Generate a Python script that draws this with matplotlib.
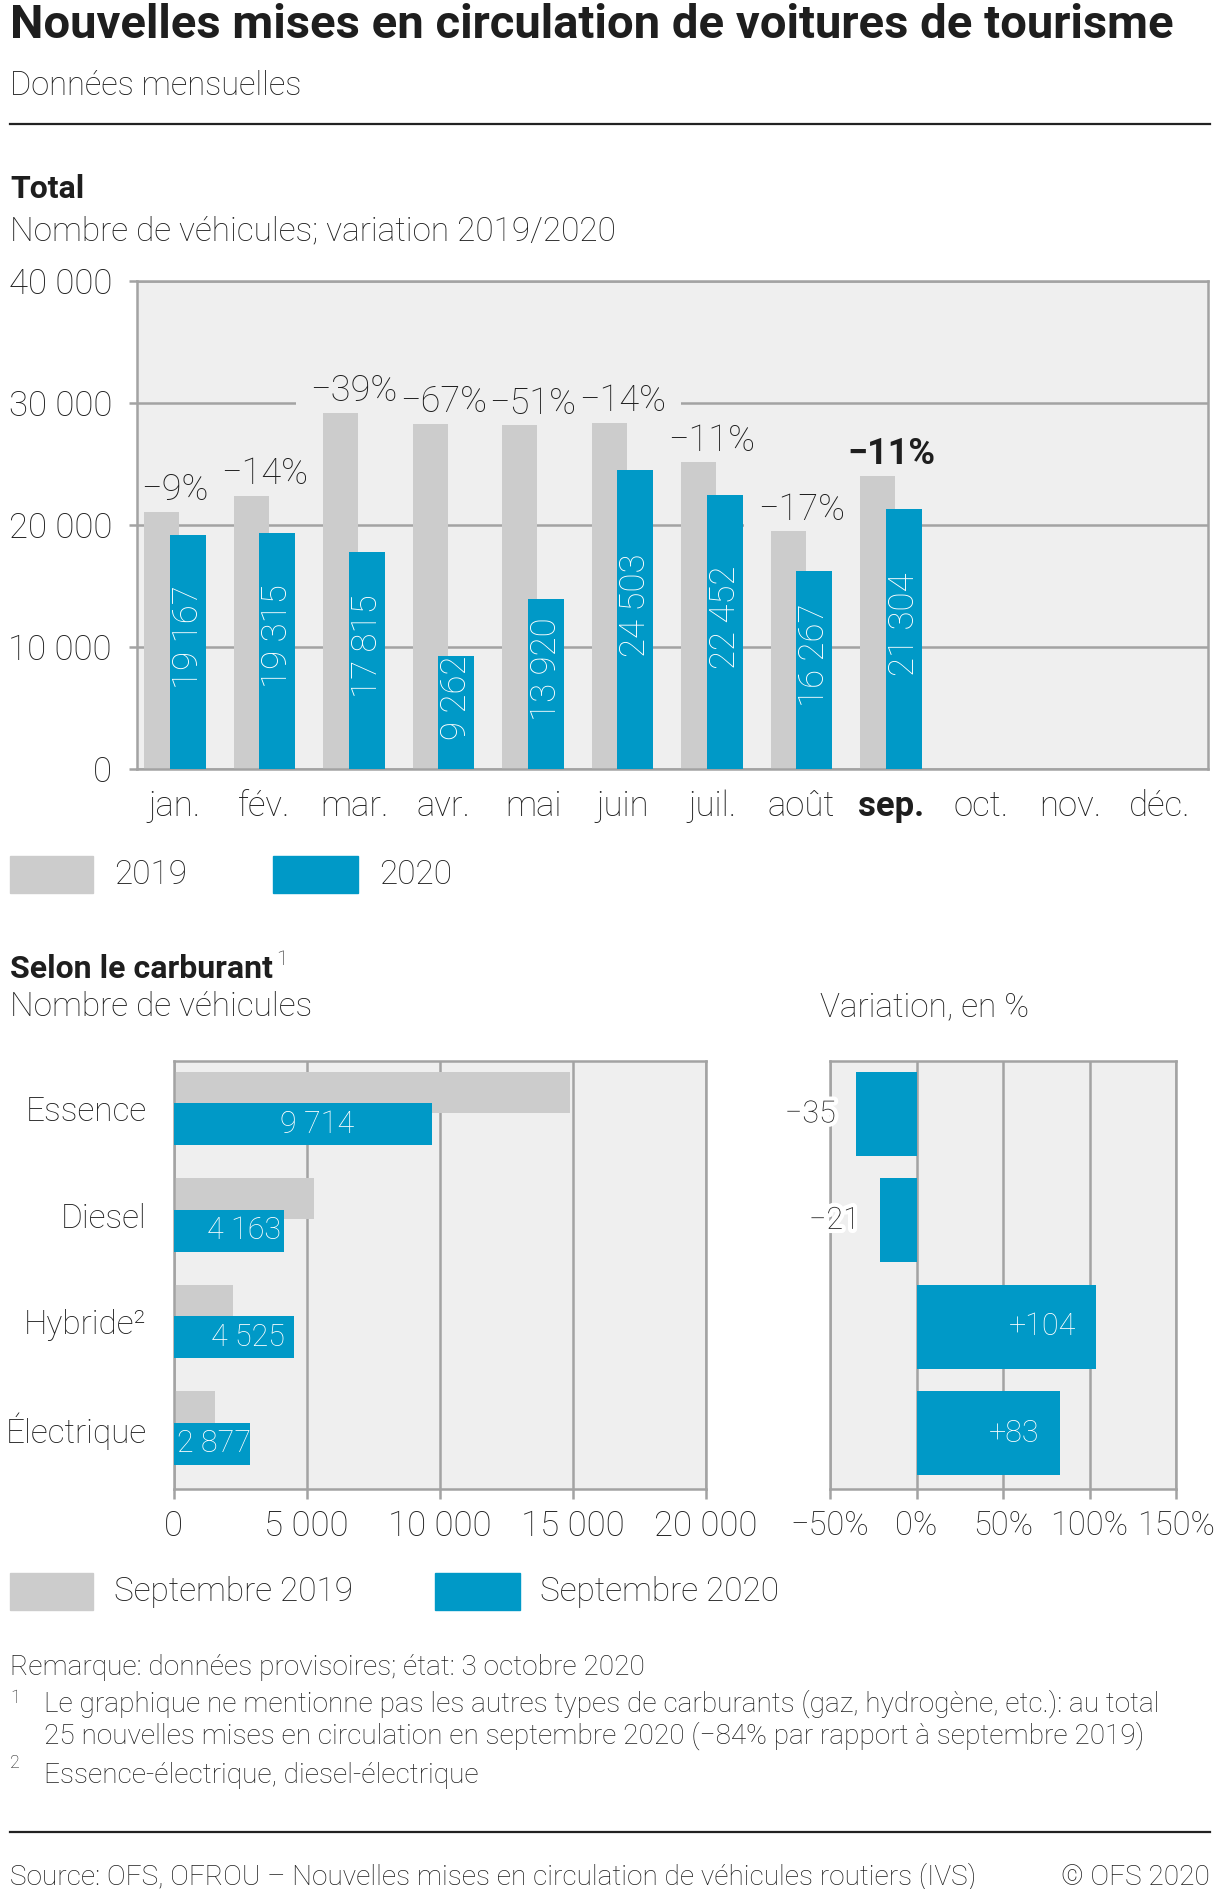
import matplotlib.pyplot as plt
import matplotlib.patheffects as pe
from matplotlib.patches import Rectangle
from matplotlib.ticker import FuncFormatter
import numpy as np

W, H = 1219, 1889

months = ['jan.', 'fév.', 'mar.', 'avr.', 'mai', 'juin', 'juil.', 'août', 'sep.', 'oct.', 'nov.', 'déc.']
total_2019 = [21100, 22400, 29200, 28300, 28200, 28400, 25150, 19500, 24050]
total_2020 = [19167, 19315, 17815, 9262, 13920, 24503, 22452, 16267, 21304]
variation_total = [-9, -14, -39, -67, -51, -14, -11, -17, -11]

fuels = ['Essence', 'Diesel', 'Hybride²', 'Électrique']
sep_2019 = [14900, 5270, 2220, 1570]
sep_2020 = [9714, 4163, 4525, 2877]
variation_fuel = [-35, -21, 104, 83]

GRAY = '#cccccc'
BLUE = '#0099c7'
BG = '#efefef'
GRID = '#a3a3a3'
TXT = '#1e1e1e'

plt.rcParams['font.family'] = ['Roboto', 'DejaVu Sans']
plt.rcParams['font.weight'] = 'light'
plt.rcParams['text.color'] = TXT
plt.rcParams['xtick.color'] = TXT
plt.rcParams['ytick.color'] = TXT


def fx(px):
    return px / W


def fy(px):
    return 1 - px / H


def thousands(v):
    return f'{v:,.0f}'.replace(',', ' ')


def minus(s):
    return s.replace('-', '\u2212')


def style_frame(ax):
    ax.set_facecolor(BG)
    ax.set_axisbelow(True)
    for s in ax.spines.values():
        s.set_color(GRID)
        s.set_linewidth(1.8)


fig = plt.figure(figsize=(W / 100, H / 100), dpi=100)

# headings
fig.text(fx(10), fy(38.5), 'Nouvelles mises en circulation de voitures de tourisme',
         fontsize=34, fontweight='bold', va='baseline')
fig.text(fx(10), fy(95), 'Données mensuelles', fontsize=23.5, va='baseline')
fig.add_artist(plt.Line2D([fx(10), fx(1210)], [fy(124), fy(124)], color='#222222', lw=1.6))
fig.text(fx(10), fy(198), 'Total', fontsize=23, fontweight='bold', va='baseline')
fig.text(fx(10), fy(240), 'Nombre de véhicules; variation 2019/2020', fontsize=24, va='baseline')

# monthly totals
ax = fig.add_axes([fx(137), fy(769), fx(1208) - fx(137), (769 - 281) / H])
style_frame(ax)
x = np.arange(len(total_2020))
ax.bar(x - 0.148, total_2019, width=0.39, color=GRAY, zorder=2)
ax.bar(x + 0.142, total_2020, width=0.40, color=BLUE, zorder=3)
ax.set_xlim(-0.425, 11.54)
ax.set_ylim(0, 40000)
ax.set_yticks(range(0, 40001, 10000))
ax.yaxis.set_major_formatter(FuncFormatter(lambda v, p: thousands(v)))
ax.grid(axis='y', color=GRID, lw=1.8)
ax.tick_params(axis='y', length=6, width=1.8, color=GRID, labelsize=25, pad=12)
ax.set_xticks(range(12))
ax.set_xticklabels(months)
ax.tick_params(axis='x', length=0, labelsize=25, pad=15)
ax.get_xticklabels()[8].set_fontweight('bold')

for i, (a, b, p) in enumerate(zip(total_2019, total_2020, variation_total)):
    top = max(a, b)
    label = minus(f'{p}%')
    weight = 'bold' if i == 8 else 'light'
    # background box hiding the gridline, drawn first so it never covers a neighbour
    ax.text(i, top + 1750, label, ha='center', va='center', fontsize=26, fontweight=weight,
            color='none', zorder=1.4, clip_on=True,
            bbox=dict(facecolor=BG, edgecolor='none', boxstyle='square,pad=0.4'))
    ax.text(i, top + 1750, label, ha='center', va='center', fontsize=26, fontweight=weight,
            zorder=1.6)
    ax.text(i + 0.142, b / 2 + 1200, thousands(b), rotation=90, ha='center', va='center',
            color='white', fontsize=25, zorder=4)

# legend 1
fig.add_artist(Rectangle((fx(10), fy(893)), 83 / W, 37 / H, transform=fig.transFigure, color=GRAY))
fig.text(fx(114), fy(875), '2019', fontsize=24, va='center')
fig.add_artist(Rectangle((fx(273), fy(893)), 85 / W, 37 / H, transform=fig.transFigure, color=BLUE))
fig.text(fx(379), fy(875), '2020', fontsize=24, va='center')

# by fuel
fig.text(fx(10), fy(978), 'Selon le carburant', fontsize=23, fontweight='bold', va='baseline')
fig.text(fx(276), fy(965), '1', fontsize=15, va='baseline')
fig.text(fx(10), fy(1016), 'Nombre de véhicules', fontsize=24, va='baseline')
fig.text(fx(820), fy(1016), 'Variation, en %', fontsize=24, va='baseline')

y = np.arange(len(fuels))
axl = fig.add_axes([fx(173.5), fy(1489), fx(706) - fx(173.5), (1489 - 1061) / H])
style_frame(axl)
axl.barh(y - 0.153, sep_2019, height=0.385, color=GRAY, zorder=2)
axl.barh(y + 0.147, sep_2020, height=0.396, color=BLUE, zorder=3)
axl.set_ylim(3.573, -0.447)
axl.set_xlim(0, 20000)
axl.set_xticks(range(0, 20001, 5000))
axl.xaxis.set_major_formatter(FuncFormatter(lambda v, p: thousands(v)))
axl.grid(axis='x', color=GRID, lw=1.8)
axl.tick_params(axis='x', length=7, width=1.8, color=GRID, labelsize=25, pad=8)
axl.set_yticks(y)
axl.set_yticklabels(fuels)
axl.tick_params(axis='y', length=0, labelsize=24, pad=19.5)
for i, v in enumerate(sep_2020):
    axl.text(min(v / 2 + 550, v - 1350), i + 0.147, thousands(v), ha='center', va='center',
             color='white', fontsize=22, zorder=4)

axr = fig.add_axes([fx(830), fy(1489), fx(1176) - fx(830), (1489 - 1061) / H])
style_frame(axr)
axr.barh(y + 0.05, variation_fuel, height=0.79, color=BLUE, zorder=3)
axr.set_ylim(3.573, -0.447)
axr.set_xlim(-50, 150)
axr.set_xticks(range(-50, 151, 50))
axr.xaxis.set_major_formatter(FuncFormatter(lambda v, p: minus(f'{v:.0f}%')))
axr.grid(axis='x', color=GRID, lw=1.8)
axr.tick_params(axis='x', length=7, width=1.8, color=GRID, labelsize=23.5, pad=8)
axr.set_yticks([])
for i, v in enumerate(variation_fuel):
    if v < 0:
        axr.text(v - 11.8, i + 0.05, minus(f'{v}'), ha='right', va='center', fontsize=22,
                 zorder=5, clip_on=False,
                 path_effects=[pe.withStroke(linewidth=6, foreground='white')])
    else:
        axr.text(v - 11.8, i + 0.05, f'+{v}', ha='right', va='center', fontsize=22,
                 color='white', zorder=5)

# legend 2
fig.add_artist(Rectangle((fx(10), fy(1610)), 83 / W, 37 / H, transform=fig.transFigure, color=GRAY))
fig.text(fx(114), fy(1592), 'Septembre 2019', fontsize=24, va='center')
fig.add_artist(Rectangle((fx(435), fy(1610)), 85 / W, 37 / H, transform=fig.transFigure, color=BLUE))
fig.text(fx(540), fy(1592), 'Septembre 2020', fontsize=24, va='center')

# notes
fig.text(fx(10), fy(1675), 'Remarque: données provisoires; état: 3 octobre 2020', fontsize=20.2, va='baseline')
fig.text(fx(10), fy(1703), '1', fontsize=13, va='baseline')
fig.text(fx(44.5), fy(1712), 'Le graphique ne mentionne pas les autres types de carburants (gaz, hydrogène, etc.): au total',
         fontsize=20.2, va='baseline')
fig.text(fx(44.5), fy(1744), '25 nouvelles mises en circulation en septembre 2020 (\u221284% par rapport à septembre 2019)',
         fontsize=20.2, va='baseline')
fig.text(fx(10), fy(1768), '2', fontsize=13, va='baseline')
fig.text(fx(44.5), fy(1783), 'Essence-électrique, diesel-électrique', fontsize=20.2, va='baseline')
fig.add_artist(plt.Line2D([fx(10), fx(1210)], [fy(1832), fy(1832)], color='#222222', lw=1.6))
fig.text(fx(10), fy(1885), 'Source: OFS, OFROU \u2013 Nouvelles mises en circulation de véhicules routiers (IVS)',
         fontsize=20.2, va='baseline')
fig.text(fx(1210), fy(1885), '© OFS 2020', fontsize=20.2, va='baseline', ha='right')

fig.savefig('out.png', dpi=100)
plt.close(fig)
